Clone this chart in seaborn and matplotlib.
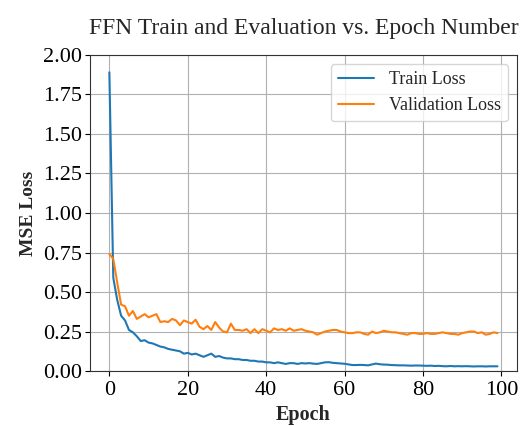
import numpy as np
import pandas as pd
import matplotlib
matplotlib.use("Agg")
import matplotlib.pyplot as plt
import seaborn as sns

# Loss values (epochs 0..99)
epochs = list(range(100))

train_loss = [
    1.89, 0.59, 0.45, 0.35, 0.32, 0.26, 0.245, 0.22, 0.19, 0.195,
    0.18, 0.175, 0.165, 0.155, 0.15, 0.14, 0.135, 0.13, 0.125, 0.11,
    0.115, 0.105, 0.11, 0.10, 0.09, 0.10, 0.11, 0.09, 0.095, 0.085,
    0.08, 0.08, 0.075, 0.075, 0.07, 0.07, 0.065, 0.065, 0.06, 0.06,
    0.055, 0.055, 0.05, 0.055, 0.05, 0.045, 0.05, 0.05, 0.045, 0.05,
    0.048, 0.05, 0.047, 0.045, 0.05, 0.055, 0.056, 0.052, 0.05, 0.048,
    0.046, 0.042, 0.038, 0.038, 0.039, 0.038, 0.036, 0.042, 0.047, 0.043,
    0.041, 0.04, 0.038, 0.037, 0.036, 0.036, 0.035, 0.034, 0.035, 0.035,
    0.034, 0.033, 0.034, 0.032, 0.033, 0.031, 0.03, 0.032, 0.03, 0.031,
    0.03, 0.031, 0.03, 0.029, 0.03, 0.03, 0.029, 0.03, 0.03, 0.03,
]

val_loss = [
    0.74, 0.71, 0.56, 0.42, 0.41, 0.35, 0.38, 0.33, 0.345, 0.36,
    0.34, 0.35, 0.36, 0.31, 0.315, 0.31, 0.33, 0.32, 0.29, 0.32,
    0.31, 0.30, 0.325, 0.28, 0.265, 0.285, 0.26, 0.31, 0.275, 0.25,
    0.245, 0.30, 0.26, 0.26, 0.255, 0.265, 0.24, 0.265, 0.24, 0.265,
    0.255, 0.245, 0.27, 0.26, 0.265, 0.255, 0.27, 0.255, 0.26, 0.265,
    0.255, 0.25, 0.245, 0.23, 0.24, 0.25, 0.255, 0.26, 0.26, 0.25,
    0.245, 0.24, 0.24, 0.245, 0.245, 0.235, 0.23, 0.25, 0.24, 0.245,
    0.255, 0.25, 0.245, 0.245, 0.24, 0.235, 0.23, 0.24, 0.24, 0.235,
    0.235, 0.24, 0.235, 0.235, 0.24, 0.245, 0.24, 0.235, 0.235, 0.23,
    0.24, 0.245, 0.25, 0.25, 0.24, 0.245, 0.23, 0.235, 0.245, 0.24,
]

df = pd.DataFrame({
    "Epoch": epochs * 2,
    "Loss": train_loss + val_loss,
    "Series": ["Train Loss"] * len(epochs) + ["Validation Loss"] * len(epochs),
})

sns.set_theme(style="ticks")
plt.rcParams["font.family"] = ["Liberation Serif", "DejaVu Serif"]

fig = plt.figure(figsize=(5.2, 4.26), dpi=100)
ax = fig.add_axes([0.173, 0.129, 0.821, 0.742])

sns.lineplot(data=df, x="Epoch", y="Loss", hue="Series",
             palette=["#1f77b4", "#ff7f0e"], linewidth=1.5, ax=ax)

ax.set_ylim(0, 2.0)
ax.set_yticks(np.arange(0, 2.01, 0.25))
ax.set_xticks([0, 20, 40, 60, 80, 100])
ax.grid(True, color="#b0b0b0", linewidth=0.8)
ax.tick_params(axis="both", labelsize=16, direction="out", length=3.5, width=0.8,
               colors="black", pad=2.5)
ax.tick_params(axis="x", pad=4)
for sp in ax.spines.values():
    sp.set_color("#333333")
    sp.set_linewidth(0.8)

ax.set_title("FFN Train and Evaluation vs. Epoch Number", fontsize=17, pad=15)
ax.set_xlabel("Epoch", fontsize=14.5, fontweight="bold", labelpad=3)
ax.set_ylabel("MSE Loss", fontsize=14, fontweight="bold", labelpad=4)

leg = ax.legend(loc="upper right", fontsize=13, frameon=True, fancybox=True,
                framealpha=0.8, edgecolor="#cccccc")
leg.set_title(None)

fig.savefig("out.png", dpi=100)
